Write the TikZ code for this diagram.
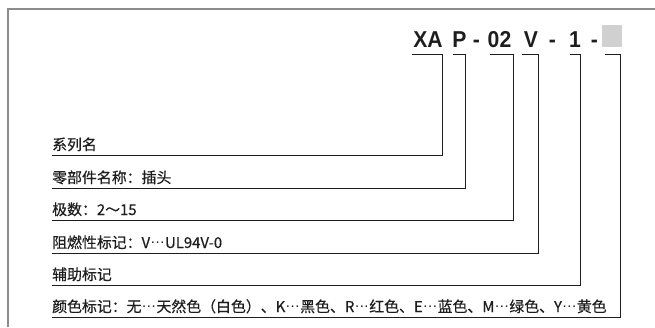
\documentclass[tikz,border=0pt]{standalone}
\usepackage{fontspec}
\setmainfont{Liberation Sans}
\newfontfamily\cjk{Noto Sans CJK SC}[FakeBold=0.5]
\newfontfamily\titlefont{Liberation Sans}[FakeStretch=0.92]
\newfontfamily\dotfont{Liberation Sans}
\newcommand\middots{\makebox[1em][c]{\raisebox{0.31em}{\dotfont .\kern0.04em.\kern0.04em.}}}
\definecolor{framegray}{HTML}{8C8C8C}
\definecolor{boxgray}{HTML}{D0D0D0}
\definecolor{ink}{HTML}{1E1E1E}
\begin{document}
\begin{tikzpicture}[x=1pt,y=-1pt,
  titlepart/.style={anchor=base,inner sep=0pt,font=\titlefont\bfseries\fontsize{23}{23}\selectfont,text=ink},
  labeltext/.style={anchor=base west,inner sep=0pt,font=\cjk\fontsize{14.9}{14.9}\selectfont,text=ink},
  bracketline/.style={line width=0.9pt,draw=ink},
  framelinestyle/.style={line width=1.6pt,draw=framegray}]
\useasboundingbox (0,0) rectangle (655,327);
% frame
\coordinate (fa) at (8,327);
\coordinate (fb) at (8,9);
\coordinate (fc) at (655,9);
\draw[framelinestyle] (fa) -- (fb) -- (fc);
% title
\node[titlepart] (xa) at (428,47) {XA};
\node[titlepart] (p) at (459.5,47) {P};
\node[titlepart] (d1) at (476.5,47) {-};
\node[titlepart] (n02) at (499.5,47) {02};
\node[titlepart] (v) at (531,47) {V};
\node[titlepart] (d2) at (552.5,47) {-};
\node[titlepart] (one) at (575,47) {1};
\node[titlepart] (d3) at (594.5,47) {-};
\node[fill=boxgray,minimum width=20pt,minimum height=22pt,inner sep=0pt] (gbox) at (612,36) {};
% underline start points
\coordinate (u1) at (52,155);
\coordinate (u2) at (52,188);
\coordinate (u3) at (52,220);
\coordinate (u4) at (52,253);
\coordinate (u5) at (52,285);
\coordinate (u6) at (52,317);
% labels
\node[labeltext] (l1) at (52,150) {系列名};
\node[labeltext] (l2) at (52,183) {零部件名称：插头};
\node[labeltext] (l3) at (52,215) {极数：2～15};
\node[labeltext] (l4) at (52,248) {阻燃性标记：V\middots UL94V-0};
\node[labeltext] (l5) at (52,280) {辅助标记};
\node[labeltext] (l6) at (52,312) {颜色标记：无\middots 天然色（白色）、K\middots 黑色、R\middots 红色、E\middots 蓝色、M\middots 绿色、Y\middots 黄色};
% bracket corners
\coordinate (s1) at (412,54); \coordinate (c1) at (442.5,54);
\coordinate (s2) at (453,54); \coordinate (c2) at (465,54);
\coordinate (s3) at (490,54); \coordinate (c3) at (513,54);
\coordinate (s4) at (522,54); \coordinate (c4) at (538,54);
\coordinate (s5) at (570,54); \coordinate (c5) at (580,54);
\coordinate (s6) at (605,54); \coordinate (c6) at (620,54);
\draw[bracketline] (s1) -- (c1) |- (u1);
\draw[bracketline] (s2) -- (c2) |- (u2);
\draw[bracketline] (s3) -- (c3) |- (u3);
\draw[bracketline] (s4) -- (c4) |- (u4);
\draw[bracketline] (s5) -- (c5) |- (u5);
\draw[bracketline] (s6) -- (c6) |- (u6);
\end{tikzpicture}
\end{document}
